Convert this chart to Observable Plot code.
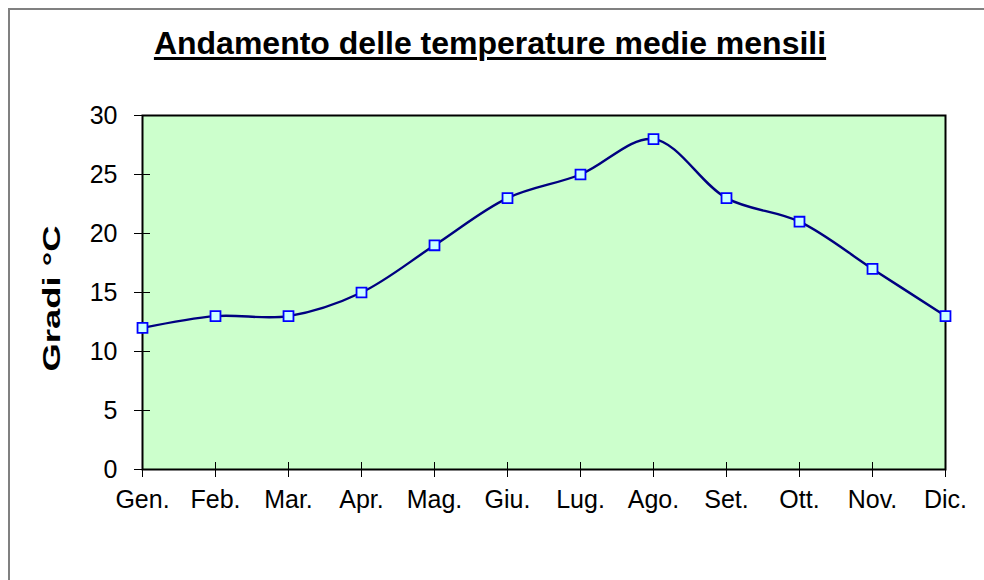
<!DOCTYPE html>
<html>
<head>
<meta charset="utf-8">
<script src="https://cdn.jsdelivr.net/npm/d3@7"></script>
<script src="https://cdn.jsdelivr.net/npm/@observablehq/plot@0.6"></script>
<style>
  html, body { margin: 0; padding: 0; background: #fff; }
  #wrap { position: relative; width: 984px; height: 580px; overflow: hidden; font-family: "Liberation Sans", Arial, sans-serif; }
  #border { position: absolute; left: 8px; top: 8px; width: 1200px; height: 800px; border-left: 2px solid #808080; border-top: 2px solid #808080; }
  #title { position: absolute; left: 0; width: 980px; top: 25px; text-align: center; font-weight: bold; font-size: 32px; line-height: 37px; text-decoration: underline; text-decoration-thickness: 3px; text-underline-offset: 3px; color: #000; }
  #chart { position: absolute; left: 0; top: 0; }
</style>
</head>
<body>
<div id="wrap">
  <div id="border"></div>
  <div id="chart"></div>
  <div id="title">Andamento delle temperature medie mensili</div>
</div>
<script>
const months = ["Gen.", "Feb.", "Mar.", "Apr.", "Mag.", "Giu.", "Lug.", "Ago.", "Set.", "Ott.", "Nov.", "Dic."];
const temps = [12, 13, 13, 15, 19, 23, 25, 28, 23, 21, 17, 13];
const yTicks = [0, 5, 10, 15, 20, 25, 30];
const yLabel = "Gradi °C";

const data = months.map((m, i) => ({month: m, temp: temps[i]}));

const plot = Plot.plot({
  width: 984,
  height: 580,
  marginLeft: 142,
  marginRight: 39,
  marginTop: 115,
  marginBottom: 111,
  style: {fontFamily: "'Liberation Sans', Arial, sans-serif", fontSize: "25px", background: "transparent", color: "#000"},
  x: {type: "point", domain: months, padding: 0},
  y: {domain: [0, 30]},
  marks: [
    Plot.frame({fill: "#ccffcc", stroke: "none"}),
    Plot.axisY(yTicks, {tickSize: 16, dx: 8, tickPadding: 17, label: null, strokeWidth: 1, fontSize: 25}),
    Plot.axisX(months, {tickSize: 15, dy: -7, tickPadding: 13, label: null, strokeWidth: 1, fontSize: 25}),
    Plot.frame({stroke: "#000", strokeWidth: 2}),
    Plot.line(data, {x: "month", y: "temp", curve: "catmull-rom", stroke: "#000080", strokeWidth: 2.4}),
    Plot.dot(data, {x: "month", y: "temp", symbol: "square", r: 5.6, fill: "#ccffff", stroke: "#0000ff", strokeWidth: 1.8}),
    Plot.text([yLabel], {frameAnchor: "left", dx: -90, dy: 6, rotate: -90, textAnchor: "middle", text: d => d, fontWeight: "bold", fontSize: 24, className: "ylabel"})
  ]
});
document.getElementById("chart").appendChild(plot);
// stretch the rotated axis title along its reading direction, as in the reference
d3.select(plot).selectAll(".ylabel text")
  .attr("textLength", 146)
  .attr("lengthAdjust", "spacingAndGlyphs");
</script>
</body>
</html>
